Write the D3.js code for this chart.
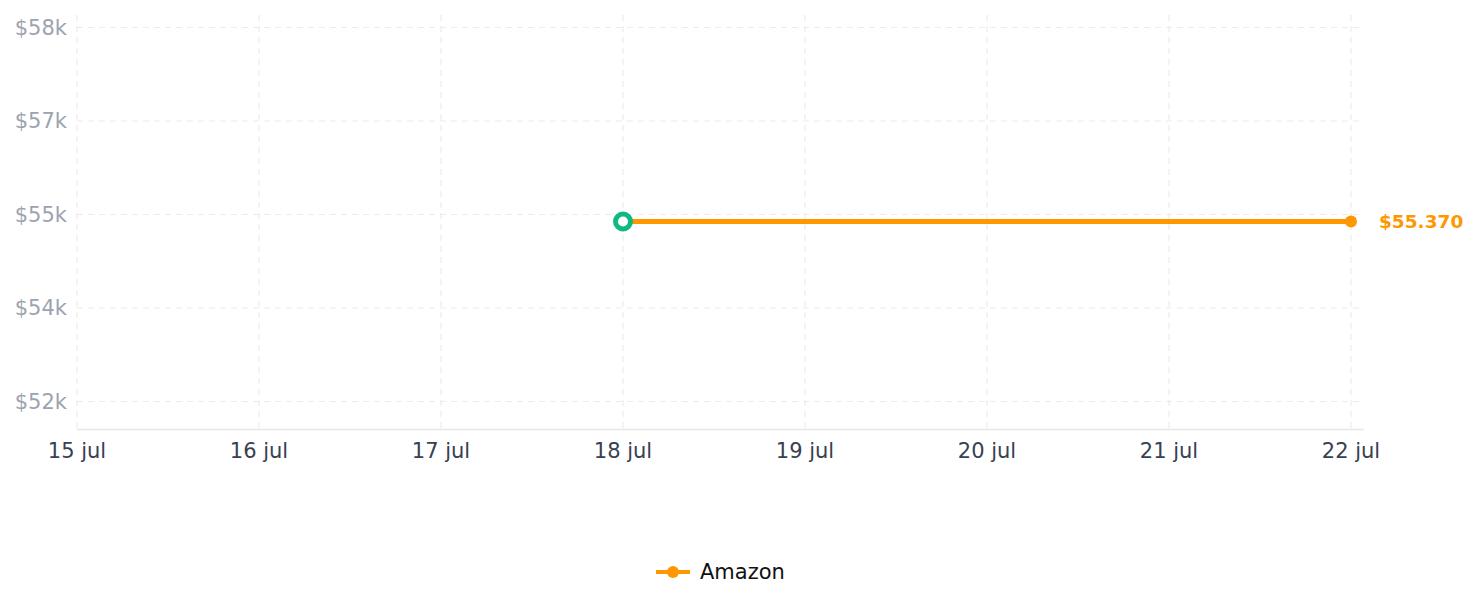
<!DOCTYPE html>
<html><head><meta charset="utf-8">
<script src="https://cdn.jsdelivr.net/npm/d3@7/dist/d3.min.js"></script>
<style>body{margin:0;background:#fff;font-family:"DejaVu Sans",sans-serif}</style>
</head><body><svg id="c" width="1478" height="607"></svg>
<script>
const dayLabels = ["15 jul","16 jul","17 jul","18 jul","19 jul","20 jul","21 jul","22 jul"];
const seriesName = "Amazon";
const seriesDays = [3, 7];           // index into dayLabels
const seriesValues = [55370, 55370];
const yTicks = [52482, 53982, 55482, 56982, 58482];
const lastLabel = "$55.370";

const svg = d3.select("#c");
const x = d3.scaleLinear().domain([0, 7]).range([77, 1351]);
const y = d3.scaleLinear().domain([52482, 58482]).range([401.5, 27.5]);
const yBottom = 429, yTop = 15;

// horizontal grid
svg.append("g").selectAll("line").data(yTicks).join("line")
  .attr("x1", 77).attr("x2", 1362).attr("y1", d => y(d)).attr("y2", d => y(d))
  .attr("stroke", "#ececec").attr("stroke-width", 1.2).attr("stroke-dasharray", "6,5");
// vertical grid
svg.append("g").selectAll("line").data(dayLabels).join("line")
  .attr("x1", (d,i) => x(i)).attr("x2", (d,i) => x(i)).attr("y1", yTop).attr("y2", yBottom)
  .attr("stroke", "#ececec").attr("stroke-width", 1.2).attr("stroke-dasharray", "6,5");

// x axis line
svg.append("line").attr("x1", 77).attr("x2", 1364).attr("y1", yBottom + 0.5).attr("y2", yBottom + 0.5)
  .attr("stroke", "#e5e7eb").attr("stroke-width", 1.5);

// y labels
svg.append("g").selectAll("text").data(yTicks).join("text")
  .attr("x", 67).attr("y", d => y(d)).attr("dy", "0.35em").attr("text-anchor", "end")
  .attr("fill", "#9ca3af").attr("font-size", 21).text(d => "$" + Math.round(d / 1000) + "k");
// x labels
svg.append("g").selectAll("text").data(dayLabels).join("text")
  .attr("x", (d,i) => x(i)).attr("y", 458).attr("text-anchor", "middle")
  .attr("fill", "#374151").attr("font-size", 21).text(d => d);

const pts = seriesDays.map((d,i) => [x(d), y(seriesValues[i])]);
svg.append("path").attr("d", d3.line()(pts)).attr("fill", "none")
  .attr("stroke", "#ff9800").attr("stroke-width", 5);
// last point dot
svg.append("circle").attr("cx", pts[1][0]).attr("cy", pts[1][1]).attr("r", 6).attr("fill", "#ff9800");
// first point (green ring)
svg.append("circle").attr("cx", pts[0][0]).attr("cy", pts[0][1]).attr("r", 7.5)
  .attr("fill", "#fff").attr("stroke", "#10b981").attr("stroke-width", 5);
// end label
svg.append("text").attr("x", pts[1][0] + 28).attr("y", pts[1][1]).attr("dy", "0.35em")
  .attr("fill", "#ff9800").attr("font-size", 18.5).attr("font-weight", "bold").text(lastLabel);

// legend
const lg = svg.append("g").attr("transform", "translate(673,572)");
lg.append("line").attr("x1", -17).attr("x2", 17).attr("stroke", "#ff9800").attr("stroke-width", 4);
lg.append("circle").attr("r", 6).attr("fill", "#ff9800");
lg.append("text").attr("x", 27).attr("dy", "0.35em").attr("font-size", 21).attr("fill", "#111").text(seriesName);
</script></body></html>
